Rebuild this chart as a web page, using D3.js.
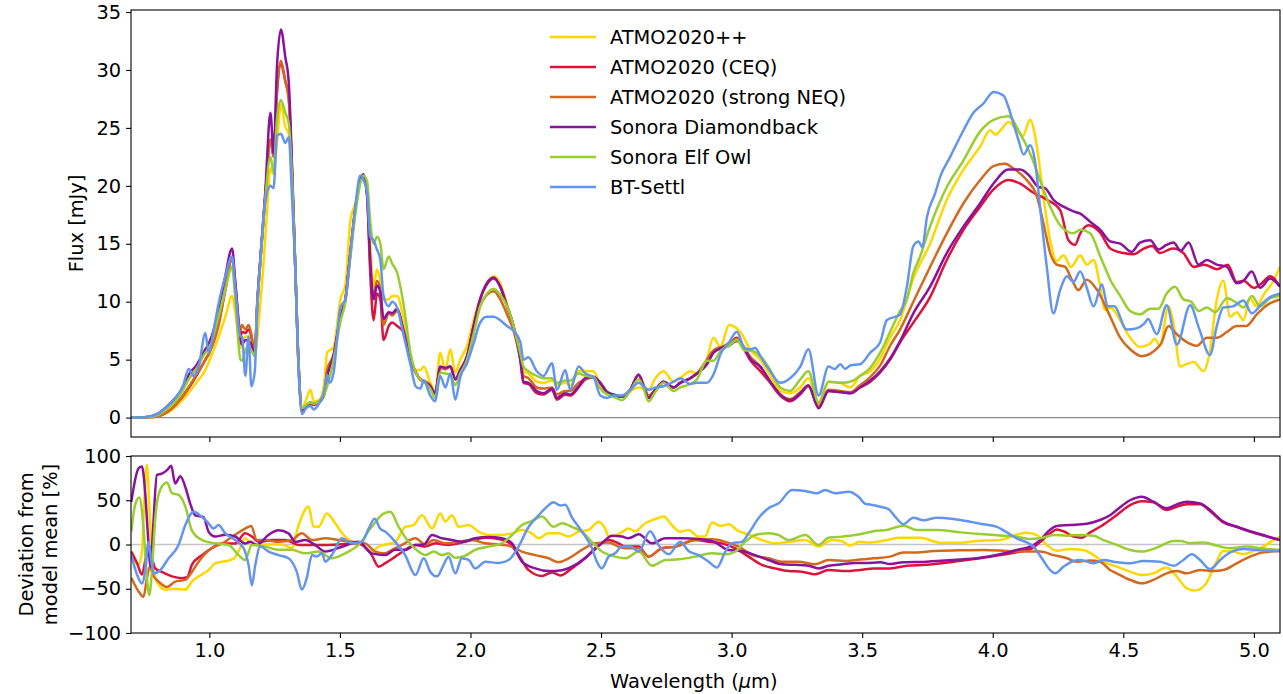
<!DOCTYPE html>
<html>
<head>
<meta charset="utf-8">
<script src="https://cdn.jsdelivr.net/npm/d3@7"></script>
<style>
  html, body { margin: 0; padding: 0; background: #fff; }
  svg { display: block; font-family: "DejaVu Sans", sans-serif; }
</style>
</head>
<body>
<svg id="chart" width="1283" height="694"></svg>
<script>
// Model spectra: [wavelength (µm), flux (mJy)]
const fluxAtmoPlus = [[0.70,0],[0.76,0.02],[0.80,0.1],[0.84,0.4],[0.87,0.9],[0.90,1.6],[0.92,2.1],[0.95,3.0],[0.985,4.1],[1.00,4.9],[1.036,7.0],[1.061,8.7],[1.087,10.5],[1.10,9.0],[1.119,6.0],[1.125,6.5],[1.14,7.0],[1.15,7.0],[1.16,6.5],[1.175,5.5],[1.19,8.5],[1.205,12.5],[1.22,17.5],[1.234,21.5],[1.246,21.0],[1.26,24],[1.274,27.0],[1.291,25.1],[1.304,24.5],[1.317,20.5],[1.329,13],[1.342,4.5],[1.355,0.9],[1.37,1.5],[1.387,2.4],[1.40,1.4],[1.42,1.5],[1.44,3.0],[1.451,5.6],[1.476,6.1],[1.502,10.2],[1.521,11.5],[1.540,17],[1.559,18.5],[1.578,20.3],[1.59,20.8],[1.604,19.8],[1.616,15],[1.629,11.3],[1.642,12.8],[1.655,11.8],[1.667,10.2],[1.687,10.2],[1.700,10.5],[1.719,10.5],[1.745,8.4],[1.771,5.3],[1.790,4.1],[1.808,4.1],[1.821,4.4],[1.846,3.0],[1.865,2.2],[1.884,5.6],[1.904,4.1],[1.923,5.9],[1.942,3.9],[1.961,5.0],[1.987,6.2],[2.012,8.4],[2.037,10.3],[2.063,11.6],[2.089,12.2],[2.114,11.6],[2.140,9.8],[2.165,7.8],[2.191,5.3],[2.203,4.0],[2.222,3.8],[2.254,3.1],[2.280,3.0],[2.312,3.2],[2.331,2.8],[2.363,3.0],[2.382,2.8],[2.414,4.0],[2.440,4.0],[2.471,4.0],[2.497,2.8],[2.523,2.2],[2.548,1.9],[2.580,1.9],[2.612,2.3],[2.644,2.6],[2.682,2.4],[2.708,3.4],[2.739,4.0],[2.778,3.1],[2.803,3.4],[2.842,4.0],[2.867,3.8],[2.905,5.0],[2.93,6.9],[2.957,6.1],[2.99,8.0],[3.02,7.7],[3.04,7.2],[3.07,5.9],[3.11,5.0],[3.148,3.6],[3.186,2.3],[3.224,2.1],[3.263,2.6],[3.294,3.4],[3.333,1.2],[3.371,3.1],[3.416,3.0],[3.454,2.6],[3.492,3.6],[3.531,4.0],[3.569,5.1],[3.607,6.9],[3.645,8.4],[3.696,12.0],[3.76,15],[3.824,18.8],[3.888,21.4],[3.952,23.4],[3.99,24.8],[4.01,24.4],[4.03,24.8],[4.06,25.5],[4.092,24.8],[4.115,24.3],[4.143,25.7],[4.169,23.4],[4.194,19.1],[4.22,15.3],[4.245,13.5],[4.271,14.0],[4.30,13.0],[4.335,14.0],[4.36,13.2],[4.386,13.6],[4.41,11.5],[4.43,9.3],[4.45,9.5],[4.488,8.4],[4.526,6.9],[4.564,6.1],[4.603,6.4],[4.62,6.8],[4.64,6.2],[4.673,9.6],[4.69,8.4],[4.718,4.4],[4.74,4.6],[4.77,4.8],[4.807,4.0],[4.83,5.5],[4.858,10.2],[4.883,11.8],[4.909,8.7],[4.935,9.1],[4.96,8.4],[4.985,10.3],[5.01,9.6],[5.04,10.7],[5.07,11.6],[5.10,13.0]];

const fluxAtmoCeq = [[0.70,0],[0.76,0.02],[0.80,0.1],[0.84,0.5],[0.87,1.1],[0.92,2.5],[0.95,3.6],[0.985,5.0],[1.00,5.6],[1.036,8.2],[1.061,11.0],[1.087,13.8],[1.10,11.0],[1.119,7.0],[1.125,7.4],[1.138,7.3],[1.15,7.6],[1.161,7.0],[1.174,5.4],[1.183,9.5],[1.195,13.5],[1.214,19.0],[1.234,24.0],[1.246,22.5],[1.259,28],[1.274,30.5],[1.291,29.0],[1.304,27.6],[1.317,21],[1.329,13],[1.342,4.4],[1.355,0.6],[1.37,1.0],[1.387,1.2],[1.40,1.1],[1.42,1.3],[1.44,2.0],[1.451,4.0],[1.476,5.4],[1.502,8.7],[1.521,10.2],[1.540,14.2],[1.559,18],[1.578,20.5],[1.59,20.9],[1.604,19.2],[1.616,12.5],[1.629,8.4],[1.642,10.7],[1.655,10.2],[1.667,6.7],[1.687,7.9],[1.700,8.2],[1.719,7.9],[1.745,7.3],[1.771,5.0],[1.790,3.9],[1.808,3.3],[1.821,3.1],[1.846,2.7],[1.865,2.1],[1.884,4.3],[1.904,4.2],[1.923,4.4],[1.942,3.3],[1.961,4.1],[1.987,5.3],[2.012,7.9],[2.037,10.2],[2.063,11.5],[2.089,12.0],[2.114,11.3],[2.140,9.6],[2.165,7.9],[2.191,5.0],[2.203,3.0],[2.222,2.9],[2.254,2.1],[2.280,2.0],[2.312,2.4],[2.331,1.55],[2.363,2.0],[2.382,1.9],[2.414,2.6],[2.440,3.3],[2.471,3.5],[2.497,3.0],[2.523,2.2],[2.548,1.9],[2.580,1.8],[2.612,2.4],[2.644,3.7],[2.663,2.8],[2.682,1.8],[2.708,2.4],[2.739,3.1],[2.778,2.6],[2.803,3.0],[2.842,3.4],[2.867,3.8],[2.905,4.6],[2.93,5.6],[2.96,6.0],[2.99,6.3],[3.02,6.9],[3.05,5.8],[3.07,5.0],[3.11,4.0],[3.148,3.0],[3.186,1.9],[3.224,1.4],[3.263,2.0],[3.294,2.7],[3.333,0.9],[3.371,2.3],[3.416,2.2],[3.454,2.1],[3.492,2.6],[3.531,3.1],[3.569,3.9],[3.607,5.0],[3.645,6.5],[3.696,8.2],[3.76,10.4],[3.824,13.6],[3.888,16.2],[3.952,18.2],[4.003,19.7],[4.06,20.5],[4.105,20.2],[4.156,19.4],[4.207,18.8],[4.258,17.9],[4.29,15.3],[4.315,14.9],[4.335,15.9],[4.367,16.6],[4.41,16.0],[4.45,14.6],[4.50,14.2],[4.54,14.1],[4.58,14.6],[4.61,14.8],[4.64,14.2],[4.69,14.6],[4.73,14.2],[4.77,13.0],[4.81,13.2],[4.858,12.8],[4.90,13.2],[4.934,11.7],[4.96,11.8],[5.00,11.2],[5.03,11.6],[5.062,12.2],[5.10,11.3]];

const fluxAtmoNeq = [[0.70,0],[0.76,0.02],[0.80,0.1],[0.84,0.5],[0.87,1.1],[0.92,2.6],[0.95,3.7],[0.985,5.0],[1.00,5.6],[1.036,8.0],[1.061,11.0],[1.087,13.8],[1.10,11.5],[1.119,7.5],[1.125,8.0],[1.138,7.6],[1.15,8.0],[1.161,7.2],[1.174,5.5],[1.183,9.5],[1.195,13.5],[1.214,19.0],[1.234,24.0],[1.246,22.5],[1.259,28.3],[1.274,30.8],[1.291,29.1],[1.304,27.5],[1.317,21],[1.329,13],[1.342,4.4],[1.355,0.7],[1.37,1.0],[1.387,1.3],[1.40,1.2],[1.42,1.3],[1.44,2.0],[1.451,4.1],[1.476,5.4],[1.502,8.7],[1.521,10.2],[1.540,14.2],[1.559,18],[1.578,20.5],[1.59,20.9],[1.604,19.3],[1.616,13.5],[1.629,10.6],[1.642,11.8],[1.655,11.0],[1.667,8.0],[1.687,9.0],[1.700,8.8],[1.719,9.2],[1.745,7.5],[1.771,5.0],[1.790,3.9],[1.808,3.3],[1.821,3.2],[1.846,2.8],[1.865,2.1],[1.884,4.3],[1.904,4.2],[1.923,4.4],[1.942,3.3],[1.961,4.1],[1.987,5.3],[2.012,7.6],[2.037,9.6],[2.063,10.6],[2.089,10.9],[2.114,10.2],[2.140,8.9],[2.165,7.5],[2.191,5.0],[2.203,3.6],[2.222,3.4],[2.254,2.6],[2.280,2.5],[2.312,2.6],[2.331,2.0],[2.363,2.3],[2.382,2.3],[2.414,3.0],[2.440,3.3],[2.471,3.5],[2.497,3.0],[2.523,2.2],[2.548,1.9],[2.580,1.8],[2.612,2.4],[2.644,3.7],[2.663,2.8],[2.682,1.9],[2.708,2.4],[2.739,3.0],[2.778,2.6],[2.803,3.0],[2.842,3.4],[2.867,3.8],[2.905,5.0],[2.93,5.8],[2.96,6.1],[2.99,6.4],[3.02,6.8],[3.05,5.9],[3.07,5.3],[3.11,4.4],[3.148,3.1],[3.186,2.0],[3.224,1.6],[3.263,2.2],[3.294,2.7],[3.333,1.0],[3.371,2.4],[3.416,2.3],[3.454,2.2],[3.492,2.8],[3.531,3.5],[3.569,4.5],[3.607,6.2],[3.645,7.6],[3.696,10.0],[3.76,13.0],[3.824,15.9],[3.888,18.5],[3.952,20.5],[4.003,21.7],[4.047,21.9],[4.079,21.5],[4.13,20.5],[4.169,19.1],[4.194,16.8],[4.22,14.2],[4.245,13.2],[4.277,13.0],[4.303,11.9],[4.328,11.0],[4.36,11.9],[4.40,11.0],[4.45,8.7],[4.488,6.9],[4.526,5.9],[4.571,5.3],[4.615,5.7],[4.645,6.4],[4.673,7.9],[4.70,7.3],[4.737,6.6],[4.781,6.2],[4.82,6.9],[4.858,6.9],[4.897,7.4],[4.934,7.9],[4.97,7.9],[5.011,8.9],[5.05,9.7],[5.10,10.2]];

const fluxDiamondback = [[0.70,0],[0.76,0.05],[0.80,0.3],[0.84,1.0],[0.87,1.7],[0.90,2.6],[0.921,3.7],[0.95,4.5],[0.985,5.9],[1.00,6.5],[1.036,9.3],[1.061,12.2],[1.087,14.6],[1.10,11.5],[1.119,6.7],[1.125,6.3],[1.138,6.7],[1.15,6.6],[1.161,6.3],[1.174,5.3],[1.183,9.8],[1.195,13.6],[1.214,19.4],[1.234,26.3],[1.246,22.8],[1.259,30.3],[1.274,33.5],[1.291,31.1],[1.304,29.0],[1.317,21.5],[1.329,13],[1.342,4.4],[1.355,0.7],[1.37,1.0],[1.387,1.3],[1.40,1.2],[1.42,1.4],[1.44,2.0],[1.451,3.5],[1.476,5.4],[1.502,8.7],[1.521,10.2],[1.540,14.2],[1.559,18],[1.578,20.5],[1.59,21.0],[1.604,19.2],[1.616,13.6],[1.629,10.2],[1.642,11.4],[1.655,10.8],[1.667,8.5],[1.687,9.1],[1.700,9.0],[1.719,9.4],[1.745,7.3],[1.771,5.0],[1.790,3.9],[1.808,3.3],[1.821,3.1],[1.846,2.7],[1.865,2.1],[1.884,4.4],[1.904,4.3],[1.923,4.4],[1.942,3.3],[1.961,4.1],[1.987,5.3],[2.012,7.9],[2.037,10.2],[2.063,11.6],[2.089,12.1],[2.114,11.3],[2.140,9.6],[2.165,7.9],[2.191,5.0],[2.203,3.1],[2.222,3.0],[2.254,2.3],[2.280,2.1],[2.312,2.5],[2.331,1.7],[2.363,2.1],[2.382,2.0],[2.414,2.7],[2.440,3.4],[2.471,3.5],[2.497,3.0],[2.523,2.2],[2.548,2.0],[2.580,1.8],[2.612,2.4],[2.644,3.7],[2.663,2.7],[2.682,1.7],[2.708,2.4],[2.739,3.1],[2.778,2.6],[2.803,3.0],[2.842,3.4],[2.867,3.8],[2.905,4.6],[2.93,5.6],[2.96,6.0],[2.99,6.2],[3.02,6.6],[3.05,6.0],[3.07,5.1],[3.11,4.4],[3.148,3.1],[3.186,2.0],[3.224,1.5],[3.263,2.1],[3.294,2.8],[3.333,0.8],[3.371,2.3],[3.416,2.2],[3.454,2.1],[3.492,2.6],[3.531,3.2],[3.569,4.0],[3.607,5.1],[3.645,6.6],[3.696,9.0],[3.76,11.3],[3.824,14.2],[3.888,16.5],[3.952,18.5],[4.003,20.2],[4.06,21.4],[4.105,21.4],[4.143,20.8],[4.175,19.9],[4.20,19.8],[4.232,18.8],[4.271,18.2],[4.309,17.8],[4.335,17.6],[4.373,16.9],[4.412,16.2],[4.45,15.2],[4.49,15.0],[4.532,14.3],[4.564,15.1],[4.603,15.3],[4.635,14.5],[4.665,14.9],[4.692,15.1],[4.72,14.4],[4.75,15.1],[4.788,13.2],[4.82,13.6],[4.858,13.2],[4.897,13.0],[4.934,11.6],[4.96,11.8],[4.992,12.6],[5.024,11.2],[5.062,12.0],[5.10,11.3]];

const fluxElfOwl = [[0.70,0],[0.76,0.03],[0.80,0.2],[0.84,0.8],[0.87,1.4],[0.90,2.4],[0.921,3.3],[0.95,4.2],[0.985,5.6],[1.00,6.0],[1.036,8.8],[1.061,11.0],[1.087,13.0],[1.10,10.0],[1.119,5.0],[1.125,4.9],[1.138,5.8],[1.15,6.2],[1.161,5.8],[1.174,5.3],[1.183,9.5],[1.195,13.2],[1.214,18.8],[1.234,22.5],[1.246,21.2],[1.259,25.7],[1.274,27.4],[1.291,26.3],[1.304,25.4],[1.317,20.5],[1.329,13],[1.342,4.4],[1.355,0.8],[1.37,1.1],[1.387,1.3],[1.40,1.2],[1.42,1.4],[1.44,2.0],[1.451,2.7],[1.476,5.0],[1.502,8.3],[1.521,10.0],[1.540,13.8],[1.559,17.5],[1.578,20.2],[1.59,20.9],[1.604,20.4],[1.616,17.0],[1.629,15.0],[1.642,15.6],[1.655,15.0],[1.667,12.8],[1.687,13.9],[1.700,13.3],[1.719,12.5],[1.745,9.6],[1.771,5.5],[1.790,3.9],[1.808,3.3],[1.821,3.1],[1.846,2.5],[1.865,1.7],[1.884,3.9],[1.904,3.8],[1.923,3.7],[1.942,2.8],[1.961,3.8],[1.987,5.0],[2.012,7.2],[2.037,9.6],[2.063,10.7],[2.089,11.1],[2.114,10.6],[2.140,9.6],[2.165,7.9],[2.191,5.5],[2.203,4.4],[2.222,4.0],[2.254,3.6],[2.280,3.4],[2.312,3.4],[2.331,3.0],[2.363,3.2],[2.382,3.2],[2.414,3.8],[2.440,3.6],[2.471,3.5],[2.497,2.5],[2.523,2.0],[2.548,1.8],[2.580,1.5],[2.612,2.3],[2.644,3.3],[2.663,2.5],[2.682,1.4],[2.708,2.2],[2.739,3.0],[2.778,2.3],[2.803,2.6],[2.842,2.9],[2.867,3.3],[2.905,4.9],[2.93,4.9],[2.96,5.8],[2.99,6.2],[3.02,6.7],[3.05,5.8],[3.07,5.8],[3.11,5.3],[3.148,4.1],[3.186,2.6],[3.224,2.3],[3.263,3.3],[3.294,4.0],[3.333,1.3],[3.371,3.1],[3.416,3.0],[3.454,3.1],[3.492,3.6],[3.531,4.3],[3.569,5.6],[3.607,7.4],[3.645,9.2],[3.671,10.2],[3.696,12.5],[3.72,13.8],[3.76,16.5],[3.824,19.9],[3.888,22.2],[3.952,24.7],[4.003,25.7],[4.06,26.0],[4.105,24.5],[4.143,22.8],[4.181,20.5],[4.22,18.2],[4.258,16.6],[4.309,15.9],[4.335,16.2],[4.373,15.9],[4.412,13.9],[4.45,11.9],[4.488,10.5],[4.526,9.2],[4.564,8.9],[4.603,9.4],[4.635,9.4],[4.666,10.7],[4.698,11.3],[4.73,10.2],[4.76,10.0],[4.788,9.2],[4.82,9.5],[4.852,9.1],[4.897,10.3],[4.934,9.9],[4.96,9.5],[4.992,10.5],[5.024,9.6],[5.062,10.3],[5.10,10.5]];

const fluxBtSettl = [[0.70,0],[0.76,0.05],[0.80,0.3],[0.84,1.0],[0.87,1.7],[0.90,2.8],[0.921,4.2],[0.94,3.6],[0.96,4.5],[0.985,7.3],[0.997,5.6],[1.02,8.0],[1.036,9.9],[1.061,12.2],[1.087,13.9],[1.10,11.0],[1.119,7.0],[1.125,7.0],[1.138,3.6],[1.15,7.0],[1.161,2.7],[1.174,4.0],[1.183,9.0],[1.195,13.4],[1.214,18.6],[1.234,20.0],[1.246,19.8],[1.259,24.3],[1.274,24.5],[1.291,23.7],[1.304,24.2],[1.317,18.8],[1.329,13],[1.342,4.0],[1.355,0.3],[1.37,0.8],[1.387,1.0],[1.40,0.7],[1.42,1.2],[1.44,2.3],[1.451,3.7],[1.462,3.0],[1.476,3.9],[1.502,9.5],[1.521,10.2],[1.540,14.2],[1.559,18.2],[1.578,20.9],[1.59,20.5],[1.604,19.4],[1.616,15.6],[1.629,15.3],[1.642,14.5],[1.655,13.6],[1.667,10.5],[1.687,9.6],[1.700,10.0],[1.719,9.5],[1.745,7.0],[1.771,4.5],[1.790,2.7],[1.808,2.5],[1.821,3.2],[1.846,1.9],[1.865,1.4],[1.884,3.6],[1.904,2.6],[1.923,3.8],[1.942,1.55],[1.961,3.5],[1.987,4.7],[2.012,6.4],[2.037,8.2],[2.063,8.7],[2.089,8.7],[2.114,8.4],[2.140,7.9],[2.165,7.5],[2.191,6.5],[2.203,5.0],[2.222,5.2],[2.254,4.0],[2.280,3.6],[2.312,4.7],[2.331,2.4],[2.363,4.1],[2.382,2.4],[2.414,4.4],[2.440,3.8],[2.471,3.5],[2.497,1.9],[2.523,1.7],[2.548,1.9],[2.580,1.9],[2.612,2.4],[2.644,3.0],[2.663,2.7],[2.682,2.4],[2.708,2.6],[2.739,2.7],[2.778,3.1],[2.803,3.4],[2.842,2.9],[2.867,3.0],[2.905,3.0],[2.93,3.7],[2.96,5.6],[2.99,6.5],[3.02,7.4],[3.05,6.0],[3.071,5.9],[3.09,6.0],[3.11,5.3],[3.148,4.0],[3.186,3.0],[3.224,3.4],[3.263,4.4],[3.294,5.9],[3.333,1.9],[3.371,4.4],[3.395,4.2],[3.416,4.6],[3.435,4.2],[3.454,4.5],[3.492,4.6],[3.531,5.6],[3.569,6.5],[3.594,8.4],[3.645,8.9],[3.671,11.3],[3.696,14.8],[3.716,15.2],[3.73,14.7],[3.748,17.3],[3.78,19.4],[3.799,20.8],[3.837,22.5],[3.888,24.8],[3.926,26.3],[3.964,27.1],[4.003,28.1],[4.041,27.8],[4.06,26.8],[4.079,25.4],[4.098,24.0],[4.118,22.7],[4.143,23.5],[4.162,22.1],[4.181,18.2],[4.207,13.0],[4.232,9.0],[4.258,11.0],[4.284,12.2],[4.309,11.7],[4.335,12.6],[4.36,11.2],[4.386,9.6],[4.418,11.5],[4.44,9.6],[4.465,9.6],[4.513,7.6],[4.55,7.7],[4.58,8.1],[4.595,8.5],[4.628,7.2],[4.666,9.7],[4.705,6.3],[4.756,9.7],[4.79,7.7],[4.832,5.4],[4.858,7.9],[4.883,9.5],[4.92,9.6],[4.96,10.1],[4.992,9.0],[5.03,9.8],[5.062,10.4],[5.10,10.7]];

// Deviation of each model from the model mean: [wavelength (µm), percent]
const devAtmoPlus = [[0.701,-8],[0.729,-23],[0.742,-8],[0.752,56],[0.761,90],[0.770,45],[0.780,-12],[0.799,-42],[0.831,-51],[0.869,-50],[0.908,-51],[0.933,-42],[0.959,-36],[0.997,-29],[1.023,-21],[1.061,-19],[1.093,-16],[1.118,-4],[1.137,7],[1.163,0],[1.214,0],[1.278,0],[1.316,-4],[1.342,22],[1.380,43],[1.399,20],[1.418,20],[1.450,35],[1.482,24],[1.508,13],[1.546,3],[1.584,0],[1.622,-8],[1.648,-2.5],[1.674,0],[1.712,3],[1.750,20],[1.782,22],[1.814,33],[1.853,18],[1.884,35],[1.904,26],[1.929,33],[1.955,20],[1.993,22],[2.031,14.5],[2.069,10.7],[2.120,10.7],[2.159,12.6],[2.197,16.4],[2.235,12.6],[2.261,7],[2.299,12.6],[2.337,12.6],[2.376,9],[2.414,14.5],[2.452,16.4],[2.491,25.8],[2.516,18],[2.529,9],[2.554,10],[2.580,14],[2.605,18],[2.630,15],[2.669,24],[2.708,28.8],[2.740,31.5],[2.771,22],[2.803,14.5],[2.835,16.4],[2.873,8.9],[2.898,9],[2.925,25],[2.957,21],[2.988,22.8],[3.027,15],[3.065,11.5],[3.116,5],[3.167,1.3],[3.218,3],[3.282,5],[3.333,-2.4],[3.384,5],[3.42,4],[3.454,-1.3],[3.49,3],[3.524,2],[3.594,5],[3.645,7.7],[3.722,7.7],[3.799,2],[3.875,2],[3.939,4],[4.028,5],[4.079,10],[4.130,13.4],[4.169,10.7],[4.207,-0.5],[4.245,-7],[4.296,-5],[4.347,-6.2],[4.386,-12],[4.424,-19.4],[4.475,-25],[4.526,-30.7],[4.571,-34.5],[4.615,-32.6],[4.666,-26],[4.705,-36.3],[4.743,-49.5],[4.775,-52],[4.813,-45.8],[4.851,-23],[4.883,-7.3],[4.922,-8],[4.960,-11],[4.998,-7.3],[5.036,-2.4],[5.075,5],[5.10,9]];

const devAtmoCeq = [[0.701,-8],[0.723,-21],[0.742,-34],[0.755,-17.5],[0.767,0],[0.780,-15],[0.793,-27],[0.818,-31],[0.857,-36],[0.895,-38],[0.915,-37],[0.933,-23],[0.972,-12],[1.010,-4],[1.048,1],[1.099,1],[1.137,12.6],[1.163,9],[1.189,3],[1.240,5],[1.291,5],[1.342,-0.5],[1.393,-0.5],[1.444,-0.5],[1.495,0],[1.559,1.3],[1.584,-0.5],[1.622,-12],[1.648,-25],[1.674,-21],[1.712,-13.7],[1.750,-6],[1.789,-0.5],[1.827,-2.4],[1.865,1.3],[1.916,-0.5],[1.955,1.3],[2.006,5],[2.057,7.7],[2.108,6.2],[2.146,2.4],[2.184,-12],[2.223,-29],[2.274,-35.6],[2.312,-31.5],[2.344,-35],[2.388,-27],[2.439,-15.6],[2.491,-0.5],[2.529,5],[2.567,1.3],[2.593,-2.4],[2.644,-2.4],[2.682,-13.7],[2.733,-4.3],[2.784,-2.4],[2.861,5],[2.912,3],[2.963,1.3],[3.014,-4.3],[3.065,-13.7],[3.116,-23],[3.167,-27],[3.218,-30],[3.269,-30.7],[3.320,-33.7],[3.371,-28.8],[3.435,-30],[3.492,-28.8],[3.543,-27],[3.607,-27],[3.671,-24],[3.748,-23],[3.850,-19.4],[3.952,-15.6],[4.028,-12],[4.105,-8],[4.150,-4.3],[4.182,3],[4.220,12.6],[4.245,17],[4.271,15],[4.309,8.9],[4.341,7.7],[4.373,13.7],[4.411,20],[4.449,27.7],[4.475,33.3],[4.526,44.6],[4.571,49],[4.615,47.6],[4.666,39],[4.705,42.7],[4.743,45.4],[4.794,45.4],[4.832,37.9],[4.883,25],[4.934,20],[4.985,14.5],[5.036,10],[5.088,6.2],[5.10,5]];

const devAtmoNeq = [[0.701,-37.5],[0.729,-53],[0.748,-59],[0.761,-38],[0.772,-25],[0.785,-35],[0.806,-42],[0.838,-48],[0.869,-42],[0.908,-40],[0.933,-31],[0.959,-19.4],[1.010,-4],[1.048,1],[1.099,11],[1.137,18],[1.160,21],[1.182,5],[1.214,5],[1.265,3],[1.316,5],[1.354,12.6],[1.393,5],[1.444,7],[1.495,5],[1.546,3],[1.597,1.3],[1.635,-8],[1.673,-10],[1.687,-8],[1.738,-0.5],[1.789,7],[1.827,0],[1.859,5],[1.904,1.3],[1.955,3],[2.006,5],[2.057,1.3],[2.108,0],[2.159,-2.4],[2.197,-8],[2.248,-12],[2.299,-15.6],[2.337,-20],[2.376,-15.6],[2.427,-6],[2.478,1.3],[2.529,2.4],[2.567,-2.4],[2.593,-4.3],[2.644,-4.3],[2.682,-13.7],[2.733,-4.3],[2.784,-2.4],[2.861,5],[2.925,5.8],[2.976,3],[3.027,-2.4],[3.078,-12],[3.141,-15.6],[3.193,-19.4],[3.256,-19.4],[3.320,-22.4],[3.371,-17.5],[3.435,-18.6],[3.492,-17],[3.543,-15.6],[3.607,-13.7],[3.658,-8.9],[3.709,-8.9],[3.773,-7.3],[3.875,-6.6],[3.965,-6.2],[4.054,-7.3],[4.130,-8],[4.182,-8],[4.233,-12],[4.284,-15.6],[4.322,-19.4],[4.373,-18],[4.411,-19.4],[4.449,-28.8],[4.475,-32.6],[4.526,-40],[4.571,-43.9],[4.615,-40],[4.666,-32.6],[4.705,-30],[4.743,-32.6],[4.794,-28.8],[4.845,-30],[4.883,-28.8],[4.934,-21.3],[4.985,-13.7],[5.036,-8.9],[5.10,-7.3]];

const devDiamondback = [[0.701,48],[0.729,86],[0.742,88],[0.755,56],[0.765,10],[0.775,-25],[0.785,20],[0.799,78.5],[0.818,80],[0.838,84],[0.854,89],[0.869,69],[0.889,77],[0.908,65],[0.927,46],[0.946,33],[0.978,31],[0.997,14.5],[1.023,9],[1.061,11],[1.099,9],[1.137,1],[1.157,3],[1.182,-0.5],[1.227,11],[1.265,16],[1.303,12.6],[1.329,3],[1.367,5],[1.405,-0.5],[1.444,-8],[1.508,-2.5],[1.571,3],[1.622,-10],[1.673,-12],[1.712,-6],[1.750,-6],[1.789,-0.5],[1.821,0],[1.853,10.7],[1.891,7],[1.929,5],[1.967,3],[2.018,7],[2.069,8.5],[2.120,7],[2.159,1.3],[2.197,-19.4],[2.248,-27],[2.299,-30],[2.350,-29],[2.401,-23],[2.452,-12],[2.503,1.3],[2.542,10],[2.580,9],[2.605,7],[2.644,11.5],[2.695,1.3],[2.746,7],[2.810,7],[2.873,6.2],[2.937,2.4],[2.988,-6.2],[3.039,-7.3],[3.090,-12],[3.141,-17.5],[3.193,-22.4],[3.244,-23],[3.295,-24],[3.333,-27],[3.371,-24],[3.422,-22.4],[3.473,-21],[3.512,-21],[3.569,-20],[3.607,-22],[3.658,-20],[3.748,-19.4],[3.850,-17.5],[3.952,-15],[4.028,-11],[4.092,-6.2],[4.143,-2.4],[4.182,5],[4.213,15],[4.245,21],[4.296,22],[4.360,23.5],[4.411,27.7],[4.449,33],[4.475,39],[4.526,50],[4.571,54],[4.615,48.4],[4.666,40.9],[4.705,45.4],[4.743,48.4],[4.794,46.5],[4.832,39],[4.883,25.8],[4.934,20],[4.985,15],[5.036,10.7],[5.088,5.8],[5.10,5]];

const devElfOwl = [[0.701,14.5],[0.716,45],[0.732,53],[0.748,18],[0.761,-38],[0.770,-57],[0.780,-31],[0.793,30],[0.812,62],[0.838,70],[0.857,58],[0.882,56],[0.908,43],[0.933,16],[0.972,5],[1.023,1.3],[1.074,-0.5],[1.112,-12],[1.137,-17.5],[1.163,-0.5],[1.214,-2.4],[1.265,-6],[1.316,-6],[1.367,-10],[1.418,-8],[1.469,-15.6],[1.520,-10],[1.571,-0.5],[1.622,20],[1.667,35],[1.693,37],[1.725,20],[1.763,3],[1.801,-8],[1.827,-12],[1.859,-8],[1.891,-12],[1.916,-10],[1.942,-15],[1.980,-12.6],[2.018,-6],[2.069,-2.4],[2.120,1.3],[2.159,10.7],[2.197,22],[2.235,26.5],[2.274,31.5],[2.318,20],[2.350,24],[2.388,20],[2.427,14.5],[2.465,3],[2.503,-8],[2.554,-13.7],[2.593,-15.6],[2.644,-8],[2.695,-24],[2.746,-17.5],[2.797,-16.8],[2.861,-13.7],[2.925,-10],[2.976,-11],[3.014,-8],[3.052,3],[3.090,10.7],[3.141,12.6],[3.180,10.7],[3.218,5],[3.282,10.7],[3.333,-0.5],[3.371,7.7],[3.422,8.9],[3.473,10.7],[3.512,13],[3.543,15],[3.594,16.4],[3.658,21.3],[3.709,16.4],[3.786,16.4],[3.875,13.7],[3.965,11.5],[4.041,10],[4.092,8.9],[4.143,6.2],[4.182,7],[4.233,10.7],[4.284,10],[4.335,10.7],[4.386,10],[4.424,5],[4.475,-0.5],[4.526,-6.2],[4.571,-8],[4.628,-3.6],[4.692,4],[4.72,4],[4.756,1.3],[4.807,2.4],[4.858,-1.3],[4.909,-4.3],[4.973,-2.4],[5.024,-4.3],[5.10,-6.2]];

const devBtSettl = [[0.701,-12],[0.723,-34],[0.742,-44],[0.757,-23],[0.767,3],[0.778,-19.4],[0.786,-32.6],[0.806,-30.7],[0.844,-15.6],[0.882,-0.5],[0.908,22],[0.940,37],[0.972,31],[0.997,24],[1.016,18],[1.035,22],[1.061,12.6],[1.099,5],[1.131,-4],[1.150,-23],[1.163,-46],[1.176,-23],[1.195,-2.4],[1.227,-8],[1.265,-12],[1.303,-15.6],[1.335,-31],[1.354,-51],[1.373,-38],[1.393,-12],[1.412,-13.6],[1.431,-10],[1.444,-19.4],[1.469,-12],[1.508,7],[1.546,1.3],[1.584,3],[1.610,18],[1.633,29],[1.654,18],[1.674,14.5],[1.712,3],[1.750,-12],[1.789,-34.5],[1.821,-15.6],[1.846,-30.7],[1.872,-36],[1.897,-23],[1.916,-13.7],[1.942,-32.6],[1.967,-15.6],[1.993,-17.5],[2.018,-27],[2.057,-19.4],[2.108,-21],[2.146,-17.5],[2.184,-2.4],[2.223,20],[2.261,33],[2.293,42.7],[2.318,47.6],[2.344,44],[2.363,45],[2.388,31],[2.427,14.5],[2.465,-4],[2.484,-19.4],[2.503,-27],[2.529,-13.7],[2.554,-10],[2.580,-2.4],[2.613,-2.4],[2.644,-8],[2.688,15],[2.720,-0.5],[2.759,-11],[2.803,3],[2.835,-7.3],[2.873,-12],[2.912,-19.4],[2.944,-26],[2.976,-8],[3.001,1.3],[3.039,3],[3.065,12.6],[3.103,29.6],[3.141,41],[3.180,46.5],[3.231,61.6],[3.282,60.5],[3.326,57.8],[3.358,61.6],[3.397,57.8],[3.448,59.7],[3.486,54],[3.512,46],[3.524,45.4],[3.569,42.7],[3.601,40],[3.626,31.5],[3.658,23],[3.696,30.3],[3.735,27.3],[3.786,30.3],[3.850,28.8],[3.913,25.8],[3.965,22.8],[4.016,20],[4.054,13.7],[4.092,7],[4.130,2.4],[4.156,-2.4],[4.188,-15.6],[4.220,-29],[4.239,-32.6],[4.271,-25],[4.309,-18.6],[4.335,-17.5],[4.386,-21.3],[4.424,-17.5],[4.475,-20],[4.526,-21.3],[4.577,-18.6],[4.641,-19.4],[4.692,-24],[4.730,-17.5],[4.762,-11],[4.794,-17.5],[4.832,-27.7],[4.871,-17.5],[4.909,-8.9],[4.960,-5],[5.011,-6.2],[5.062,-7.3],[5.10,-7.3]];

const modelNames = ["ATMO2020++", "ATMO2020 (CEQ)", "ATMO2020 (strong NEQ)", "Sonora Diamondback", "Sonora Elf Owl", "BT-Settl"];
const modelColors = ["#ffd700", "#dc143c", "#d2691e", "#8b129b", "#9acd32", "#6495ed"];
const fluxSeries = [fluxAtmoPlus, fluxAtmoCeq, fluxAtmoNeq, fluxDiamondback, fluxElfOwl, fluxBtSettl];
const devSeries = [devAtmoPlus, devAtmoCeq, devAtmoNeq, devDiamondback, devElfOwl, devBtSettl];

const wavelengthTicks = [1.0, 1.5, 2.0, 2.5, 3.0, 3.5, 4.0, 4.5, 5.0];
const fluxTicks = [0, 5, 10, 15, 20, 25, 30, 35];
const devTicks = [-100, -50, 0, 50, 100];

// ---- layout ----
const svg = d3.select("#chart");
const left = 131, right = 1280;
const top1 = 10, bottom1 = 437;
const top2 = 456, bottom2 = 633;

const x = d3.scaleLinear().domain([0.7, 5.1]).range([left, right]);
const yFlux = d3.scaleLinear().domain([-1.675, 35.175]).range([bottom1, top1]);
const yDev = d3.scaleLinear().domain([-100, 100]).range([bottom2, top2]);

const fontSize = "19.4px";
const lineWidth = 2.5;

const defs = svg.append("defs");
defs.append("clipPath").attr("id", "clipTop")
  .append("rect").attr("x", left).attr("y", top1).attr("width", right - left).attr("height", bottom1 - top1);
defs.append("clipPath").attr("id", "clipBottom")
  .append("rect").attr("x", left).attr("y", top2).attr("width", right - left).attr("height", bottom2 - top2);

function styleAxis(g) {
  g.select(".domain").remove();
  g.selectAll(".tick line").attr("stroke", "#000").attr("stroke-width", 1.1);
  g.selectAll(".tick text").attr("fill", "#000").style("font-size", fontSize).style("font-family", "DejaVu Sans");
}

// ---- top panel: flux ----
const topG = svg.append("g");
topG.append("line")
  .attr("x1", left).attr("x2", right)
  .attr("y1", yFlux(0)).attr("y2", yFlux(0))
  .attr("stroke", "#8c8c8c").attr("stroke-width", 1.1);

const lineFlux = d3.line().x(d => x(d[0])).y(d => yFlux(d[1])).curve(d3.curveMonotoneX);
topG.append("g").attr("clip-path", "url(#clipTop)")
  .selectAll("path").data(fluxSeries).join("path")
  .attr("d", lineFlux)
  .attr("fill", "none")
  .attr("stroke", (d, i) => modelColors[i])
  .attr("stroke-width", lineWidth)
  .attr("stroke-linejoin", "round");

topG.append("g").attr("transform", `translate(${left},0)`)
  .call(d3.axisLeft(yFlux).tickValues(fluxTicks).tickFormat(d3.format("d")).tickSize(4.9).tickPadding(4.9))
  .call(styleAxis);
topG.append("g").attr("transform", `translate(0,${bottom1})`)
  .call(d3.axisBottom(x).tickValues(wavelengthTicks).tickFormat("").tickSize(4.9))
  .call(styleAxis);
topG.append("rect")
  .attr("x", left).attr("y", top1).attr("width", right - left).attr("height", bottom1 - top1)
  .attr("fill", "none").attr("stroke", "#000").attr("stroke-width", 1.1);

// legend
const legend = svg.append("g").attr("transform", "translate(550,37)");
modelNames.forEach((name, i) => {
  const row = legend.append("g").attr("transform", `translate(0,${i * 30})`);
  row.append("line").attr("x1", 0).attr("x2", 46).attr("y1", 0).attr("y2", 0)
    .attr("stroke", modelColors[i]).attr("stroke-width", lineWidth);
  row.append("text").attr("x", 60).attr("y", 0).attr("dy", "0.36em")
    .style("font-size", fontSize).attr("fill", "#000").text(name);
});

// y label top
svg.append("text")
  .attr("transform", `translate(83,${(top1 + bottom1) / 2}) rotate(-90)`)
  .attr("text-anchor", "middle")
  .style("font-size", fontSize)
  .text("Flux [mJy]");

// ---- bottom panel: deviation ----
const botG = svg.append("g");
botG.append("line")
  .attr("x1", left).attr("x2", right)
  .attr("y1", yDev(0)).attr("y2", yDev(0))
  .attr("stroke", "#c4c4c4").attr("stroke-width", 1.6);

const lineDev = d3.line().x(d => x(d[0])).y(d => yDev(d[1])).curve(d3.curveMonotoneX);
botG.append("g").attr("clip-path", "url(#clipBottom)")
  .selectAll("path").data(devSeries).join("path")
  .attr("d", lineDev)
  .attr("fill", "none")
  .attr("stroke", (d, i) => modelColors[i])
  .attr("stroke-width", lineWidth)
  .attr("stroke-linejoin", "round");

botG.append("g").attr("transform", `translate(${left},0)`)
  .call(d3.axisLeft(yDev).tickValues(devTicks).tickFormat(d3.format("d")).tickSize(4.9).tickPadding(4.9))
  .call(styleAxis);
botG.append("g").attr("transform", `translate(0,${bottom2})`)
  .call(d3.axisBottom(x).tickValues(wavelengthTicks).tickFormat(d3.format(".1f")).tickSize(4.9).tickPadding(4.9))
  .call(styleAxis);
botG.append("rect")
  .attr("x", left).attr("y", top2).attr("width", right - left).attr("height", bottom2 - top2)
  .attr("fill", "none").attr("stroke", "#000").attr("stroke-width", 1.1);

const devLabel = svg.append("text")
  .attr("transform", `translate(0,${(top2 + bottom2) / 2}) rotate(-90)`)
  .attr("text-anchor", "middle")
  .style("font-size", fontSize);
devLabel.append("tspan").attr("x", 0).attr("y", 33).text("Deviation from");
devLabel.append("tspan").attr("x", 0).attr("y", 57).text("model mean [%]");

// x label
const xLabel = svg.append("text")
  .attr("x", 610).attr("y", 688)
  .attr("text-anchor", "start")
  .style("font-size", fontSize);
xLabel.append("tspan").text("Wavelength (");
xLabel.append("tspan").style("font-style", "italic").text("\u03bc");
xLabel.append("tspan").text("m)");
</script>
</body>
</html>
